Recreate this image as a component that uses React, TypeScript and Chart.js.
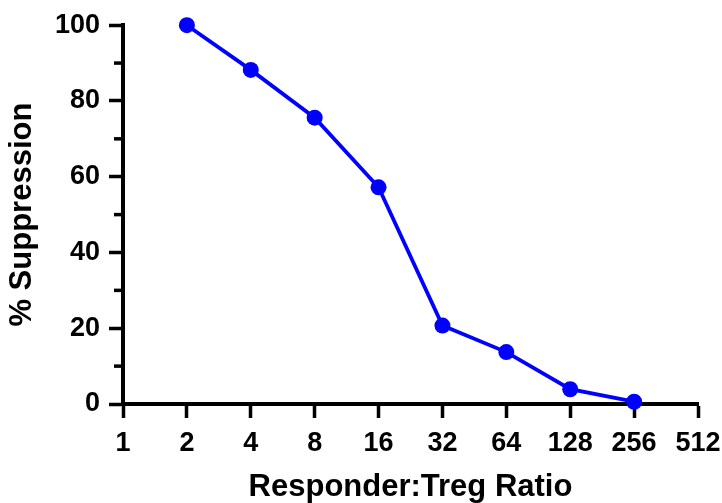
import React, { useEffect, useRef } from "react";
import { Chart, registerables } from "chart.js";

Chart.register(...registerables);

const ratios = [2, 4, 8, 16, 32, 64, 128, 256];
const suppression = [100, 88.2, 75.6, 57.2, 20.7, 13.7, 3.9, 0.6];
const xTickValues = [1, 2, 4, 8, 16, 32, 64, 128, 256, 512];
const yMinorTicks = [10, 30, 50, 70, 90];

const FONT = "'Liberation Sans', Arial, Helvetica, sans-serif";

const minorTicksPlugin = {
  id: "minorTicks",
  afterDraw(chart: any) {
    const y = chart.scales.y;
    const ctx = chart.ctx;
    const left = chart.chartArea.left;
    ctx.save();
    ctx.strokeStyle = "#000";
    ctx.lineWidth = 3.5;
    yMinorTicks.forEach((v) => {
      const py = y.getPixelForValue(v);
      ctx.beginPath();
      ctx.moveTo(left - 9, py);
      ctx.lineTo(left, py);
      ctx.stroke();
    });
    ctx.restore();
  },
};

export default function App() {
  const ref = useRef<HTMLCanvasElement | null>(null);

  useEffect(() => {
    document.body.style.margin = "0";
    const canvas = ref.current;
    if (!canvas) return;
    const chart = new Chart(canvas, {
      type: "line",
      data: {
        datasets: [
          {
            data: ratios.map((r, i) => ({ x: r, y: suppression[i] })),
            borderColor: "#0000ff",
            backgroundColor: "#0000ff",
            borderWidth: 3.8,
            pointRadius: 8,
            pointBorderWidth: 0,
            pointBackgroundColor: "#0000ff",
            tension: 0,
            clip: false as any,
          },
        ],
      },
      options: {
        animation: false,
        responsive: true,
        maintainAspectRatio: false,
        layout: { padding: { top: 23, right: 24, left: 0, bottom: 0 } },
        plugins: {
          legend: { display: false },
          tooltip: { enabled: false },
        },
        scales: {
          x: {
            type: "logarithmic",
            min: 1,
            max: 512,
            afterBuildTicks: (s: any) => {
              s.ticks = xTickValues.map((v) => ({ value: v }));
            },
            afterFit: (s: any) => {
              s.height = 99;
              s.paddingRight = 0;
              s.paddingLeft = 0;
            },
            ticks: {
              autoSkip: false,
              maxRotation: 0,
              padding: 9,
              color: "#000",
              font: { family: FONT, size: 27, weight: "bold" },
              callback: (v: any) => String(v),
            },
            grid: {
              display: true,
              drawOnChartArea: false,
              drawTicks: true,
              tickLength: 14,
              tickWidth: 3.5,
              tickColor: "#000",
            },
            border: { display: true, color: "#000", width: 4 },
            title: {
              display: true,
              text: "Responder:Treg Ratio",
              color: "#000",
              font: { family: FONT, size: 31, weight: "bold", lineHeight: 1 },
              padding: { top: 0, bottom: 0 },
            },
          },
          y: {
            type: "linear",
            min: 0,
            max: 100,
            afterFit: (s: any) => {
              s.width = 123;
            },
            ticks: {
              stepSize: 20,
              padding: 9,
              color: "#000",
              font: { family: FONT, size: 27, weight: "bold" },
            },
            grid: {
              display: true,
              drawOnChartArea: false,
              drawTicks: true,
              tickLength: 14,
              tickWidth: 3.5,
              tickColor: "#000",
            },
            border: { display: true, color: "#000", width: 4 },
            title: {
              display: true,
              text: "% Suppression",
              color: "#000",
              font: { family: FONT, size: 31, weight: "bold", lineHeight: 1 },
              padding: { top: 7, bottom: 0 },
            },
          },
        },
      },
      plugins: [minorTicksPlugin],
    });
    return () => chart.destroy();
  }, []);

  return (
    <div style={{ width: 722, height: 503, position: "relative" }}>
      <canvas ref={ref} />
    </div>
  );
}
